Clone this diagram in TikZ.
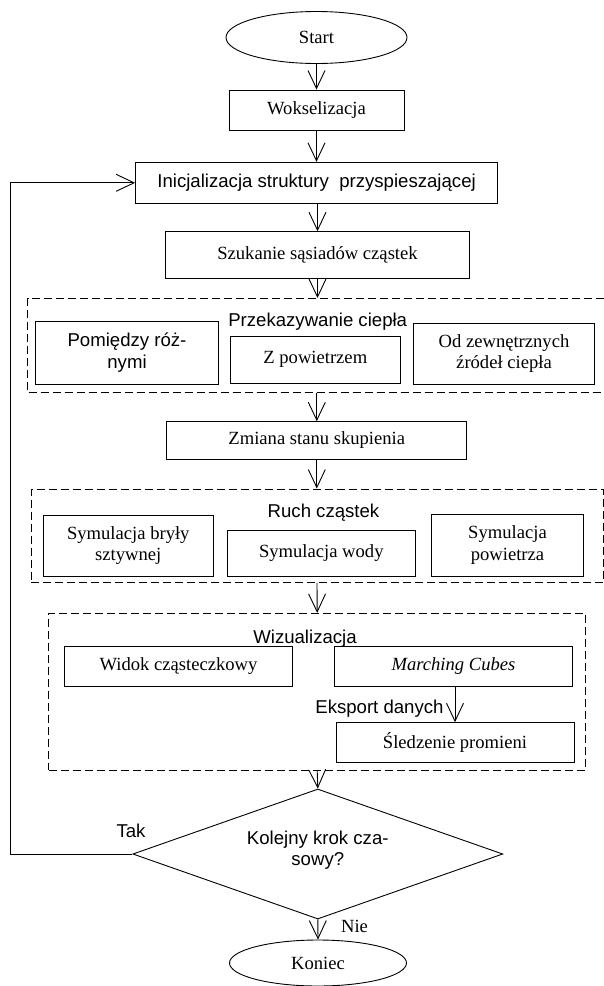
\documentclass[tikz,border=0pt]{standalone}
\usepackage{fontspec}
\setmainfont{Liberation Serif}
\newfontfamily\arialfont{Liberation Sans}
\usetikzlibrary{shapes.geometric,arrows.meta}
\begin{document}
\begin{tikzpicture}[x=1pt,y=-1pt,
  line width=0.9pt,
  every node/.style={font=\fontsize{18.6}{21.5}\selectfont, inner sep=0pt},
  sans/.style={font=\arialfont\fontsize{18.6}{21.5}\selectfont},
  box/.style={draw, fill=white, rectangle, align=center},
  oval/.style={draw, fill=white, ellipse},
  grp/.style={draw, dash pattern=on 8pt off 4pt, rectangle},
  arr/.style={-{Straight Barb[length=18pt,width=17pt]}},
]
\useasboundingbox (0,0) rectangle (604,986);

% top
\node[oval, minimum width=181pt, minimum height=52pt] (start) at (316.5,37.5) {Start};
\node[box, minimum width=175pt, minimum height=40pt] (wok) at (316.5,110) {Wokselizacja};
\node[box, sans, minimum width=362pt, minimum height=41pt] (init) at (316.6,182.8) {Inicjalizacja struktury\ \ przyspieszającej};
\node[box, minimum width=304pt, minimum height=46.6pt] (szuk) at (317.5,255) {Szukanie sąsiadów cząstek};

% group 1 (right side beyond the page)
\coordinate (d1tr) at (604,298);
\coordinate (d1tl) at (27.7,298);
\coordinate (d1bl) at (27.7,392.7);
\coordinate (d1br) at (604,392.7);
\draw[dash pattern=on 8pt off 4pt] (d1tr) -- (d1tl) -- (d1bl) -- (d1br);
\node[sans, anchor=base] (t1) at (317.7,326) {Przekazywanie ciepła};
\node[box, sans, minimum width=183pt, minimum height=62.3pt] (pa) at (127,352.8) {Pomiędzy róż-\\nymi};
\node[box, minimum width=170.6pt, minimum height=47pt] (pb) at (315.3,359.5) {Z powietrzem};
\node[box, minimum width=181.8pt, minimum height=60.7pt] (pc) at (504,353.7) {Od zewnętrznych\\źródeł ciepła};

\node[box, minimum width=300pt, minimum height=37.6pt] (zm) at (316.8,440.5) {Zmiana stanu skupienia};

% group 2
\node[grp, minimum width=572pt, minimum height=93.5pt] (g2) at (317,535.75) {};
\node[sans, anchor=base] (t2) at (323.5,517) {Ruch cząstek};
\node[box, minimum width=169.5pt, minimum height=61pt] (rd) at (128.3,545.5) {Symulacja bryły\\sztywnej};
\node[box, minimum width=188pt, minimum height=45.3pt] (re) at (321.3,553.3) {Symulacja wody};
\node[box, minimum width=152pt, minimum height=62pt] (rf) at (507.5,545) {Symulacja\\powietrza};

% group 3
\node[grp, minimum width=536.6pt, minimum height=156.7pt] (g3) at (317.2,691.65) {};
\node[sans, anchor=base] (t3) at (305,643) {Wizualizacja};
\node[box, minimum width=228.5pt, minimum height=39.3pt] (wg) at (178.5,666.3) {Widok cząsteczkowy};
\node[box, minimum width=238pt, minimum height=39.3pt] (mc) at (453.5,666.3) {\itshape Marching Cubes};
\node[box, minimum width=238pt, minimum height=40pt] (sl) at (455,742.7) {Śledzenie promieni};
\node[sans, anchor=base east] (exp) at (444,713) {Eksport danych};

% decision
\node[draw, fill=white, diamond, shape aspect=2.85,
      minimum width=370pt, minimum height=130pt] (dec) at (317.8,854) {};
\node[sans, align=center] (dectext) at (317.8,850) {Kolejny krok cza-\\sowy?};
\node[sans, anchor=base] (tak) at (131,837.7) {Tak};
\node[anchor=base] (nie) at (354.5,932) {Nie};
\node[oval, minimum width=177pt, minimum height=46pt] (end) at (318,963) {Koniec};

\coordinate (loopc) at (10.8,854);

% connectors
\draw[arr] (start.south) -- (wok.north);
\draw[arr] (wok.south) -- (init.north -| wok.south);
\draw[arr] (init.south -| szuk.north) -- (szuk.north);
\draw[arr] (szuk.south) -- (szuk.south |- d1tl);
\draw[arr] (d1bl -| zm.north) -- (zm.north);
\draw[arr] (zm.south) -- (zm.south |- g2.north);
\draw[arr] (g2.south) -- (g3.north);
\draw[arr] (mc.south -| sl.north) -- (sl.north);
\draw[arr] (g3.south) -- (dec.north);
\draw[arr] (dec.south) -- (end.north);
\draw[arr] (dec.west) -- (loopc) |- (init.west);
\end{tikzpicture}
\end{document}
